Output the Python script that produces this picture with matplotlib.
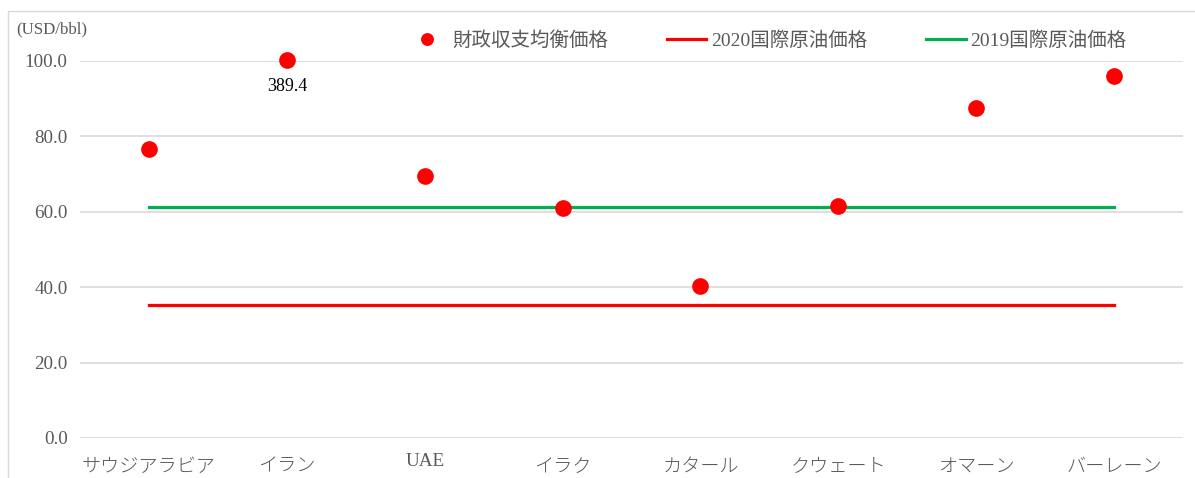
import numpy as np
import matplotlib.pyplot as plt
from matplotlib.patches import Rectangle
from matplotlib.transforms import ScaledTranslation

# data
countries = ['サウジアラビア', 'イラン', 'UAE', 'イラク', 'カタール', 'クウェート', 'オマーン', 'バーレーン']
breakeven = [76.7, 100.3, 69.5, 61.0, 40.2, 61.5, 87.5, 95.9]   # Iran shown at top of axis
iran_label = '389.4'
oil_2020 = [35.3] * 8
oil_2019 = [61.2] * 8
yticks = [0, 20, 40, 60, 80, 100]

fonts = ['Liberation Serif', 'Noto Sans CJK JP']
plt.rcParams['font.family'] = fonts
gray = '#595959'

fig = plt.figure(figsize=(11.95, 4.78), dpi=100)
ax = fig.add_axes([0.067, 0.0837, 0.923, 0.7887])

x = np.arange(len(countries))
ax.plot(x, oil_2020, color='#ff0000', lw=2.3, label='2020国際原油価格', zorder=2)
ax.plot(x, oil_2019, color='#00b050', lw=2.3, label='2019国際原油価格', zorder=2)
ax.plot(x, breakeven, 'o', color='#ff0000', ms=11, label='財政収支均衡価格',
        clip_on=False, zorder=3)
ax.text(1, 93.3, iran_label, ha='center', va='center', fontsize=13, color='black')

ax.set_xlim(-0.5, len(countries) - 0.5)
ax.set_ylim(0, 100)
ax.set_yticks(yticks)
ax.set_yticklabels(['%.1f' % v for v in yticks], fontsize=13.7, color=gray)
ax.set_xticks(x)
ax.set_xticklabels(countries, fontsize=13.8, color=gray, fontweight='light')
ax.tick_params(length=0)
ax.tick_params(axis='y', pad=9)
ax.tick_params(axis='x', pad=15)
ax.grid(axis='y', color='#d9d9d9', lw=1.2)
ax.set_axisbelow(True)
for s in ax.spines.values():
    s.set_visible(False)

# UAE (latin font) sits a little higher than the kana labels
for lab in ax.get_xticklabels():
    if lab.get_text() == 'UAE':
        lab.set_transform(lab.get_transform() + ScaledTranslation(0, 4 / 72, fig.dpi_scale_trans))

fig.text(0.014, 0.938, '(USD/bbl)', fontsize=12.2, color=gray, va='center')

h, l = ax.get_legend_handles_labels()
order = [2, 0, 1]
leg = fig.legend([h[i] for i in order], [l[i] for i in order], ncol=3,
                 loc='center', bbox_to_anchor=(0.642, 0.916), frameon=False,
                 fontsize=14, handlelength=2.05, columnspacing=3.0, handletextpad=0.25,
                 markerscale=0.75)
for t in leg.get_texts():
    t.set_color(gray)

fig.patches.append(Rectangle((8 / 1195, -0.1), 1.2, 1 - 11 / 478 + 0.1,
                             transform=fig.transFigure, fill=False,
                             edgecolor='#d9d9d9', lw=1))

fig.savefig('out.png', dpi=100)
